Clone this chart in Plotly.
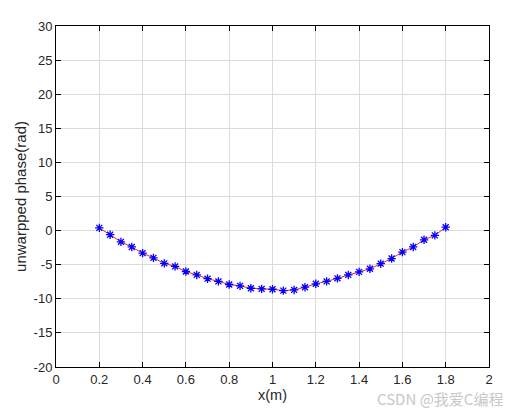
import plotly.graph_objects as go

x_vals = [0.2, 0.25, 0.3, 0.35, 0.4, 0.45, 0.5, 0.55, 0.6, 0.65, 0.7, 0.75, 0.8,
          0.85, 0.9, 0.95, 1.0, 1.05, 1.1, 1.15, 1.2, 1.25, 1.3, 1.35, 1.4, 1.45,
          1.5, 1.55, 1.6, 1.65, 1.7, 1.75, 1.8]
phase_vals = [0.4, -0.6, -1.65, -2.4, -3.3, -4.0, -4.8, -5.25, -6.0, -6.5, -7.05,
              -7.45, -7.9, -8.1, -8.45, -8.55, -8.6, -8.8, -8.7, -8.3, -7.8, -7.45,
              -7.0, -6.5, -6.05, -5.6, -4.85, -4.1, -3.15, -2.4, -1.35, -0.7, 0.5]
x_ticks = [0, 0.2, 0.4, 0.6, 0.8, 1, 1.2, 1.4, 1.6, 1.8, 2]
x_tick_text = ["0", "0.2", "0.4", "0.6", "0.8", "1", "1.2", "1.4", "1.6", "1.8", "2"]
y_ticks = [-20, -15, -10, -5, 0, 5, 10, 15, 20, 25, 30]
y_tick_text = ["-20", "-15", "-10", "-5", "0", "5", "10", "15", "20", "25", "30"]

font_family = "Liberation Sans, Arial, sans-serif"

fig = go.Figure()
fig.add_trace(go.Scatter(
    x=x_vals, y=phase_vals, mode="lines",
    line=dict(color="#ff2020", width=1), showlegend=False, hoverinfo="skip"))
fig.add_trace(go.Scatter(
    x=x_vals, y=phase_vals, mode="markers",
    marker=dict(symbol="asterisk-open", size=7, color="blue",
                line=dict(color="blue", width=1.3)),
    showlegend=False))

axis_common = dict(
    showline=True, linecolor="black", linewidth=1, mirror="allticks",
    ticks="inside", ticklen=5, tickcolor="black",
    showgrid=True, gridcolor="#dcdcdc", gridwidth=1, zeroline=False,
    tickfont=dict(family=font_family, size=13, color="#262626"),
)

fig.update_layout(
    width=521, height=417,
    margin=dict(l=48, r=40, t=18, b=58),
    paper_bgcolor="white", plot_bgcolor="white",
    font=dict(family=font_family, color="#262626"),
    xaxis=dict(range=[0, 2], tickvals=x_ticks, ticktext=x_tick_text,
               title=dict(text="x(m)", font=dict(size=14.5, family=font_family), standoff=4),
               **axis_common),
    yaxis=dict(range=[-20, 30], tickvals=y_ticks, ticktext=y_tick_text,
               title=dict(text="unwarpped phase(rad)", font=dict(size=15, family=font_family), standoff=3),
               **axis_common),
    annotations=[dict(
        text="CSDN @我爱C编程", xref="paper", yref="paper",
        x=1.037, y=-0.091, xanchor="right", yanchor="middle", showarrow=False,
        font=dict(family="Noto Sans CJK SC, Liberation Sans, sans-serif", size=15, color="#c8c8c8"))],
)

fig.write_html("out.html")
